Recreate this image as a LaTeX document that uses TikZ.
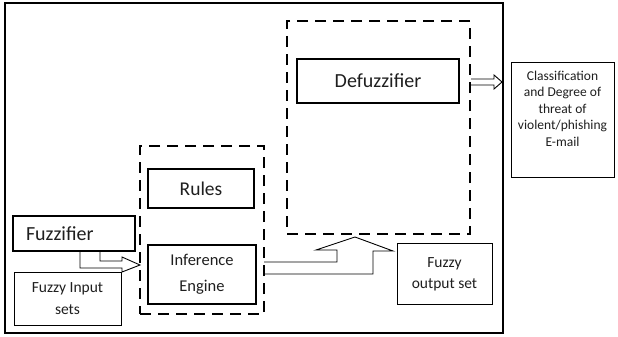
\documentclass[tikz,border=0pt]{standalone}
\usepackage{fontspec}
\setmainfont{Carlito}
\usetikzlibrary{calc}
\begin{document}
\begin{tikzpicture}[x=1pt,y=-1pt,
  every node/.style={inner sep=0pt, outer sep=0pt, text=black!88},
  outerbox/.style={draw, line width=2pt},
  dashbox/.style={draw, line width=2.5pt, dash pattern=on 11pt off 7pt},
  heavybox/.style={draw, line width=2.5pt},
  midbox/.style={draw, line width=2pt},
  thinbox/.style={draw, line width=0.9pt},
  fatarrow/.style={draw, line width=0.9pt, line join=miter}]
\useasboundingbox (0,0) rectangle (618,337);
\fill[white] (0,0) rectangle (618,337);
% frames
\node[outerbox, minimum width=498pt, minimum height=330pt] (outer) at (254,168) {};
\node[dashbox, minimum width=124pt, minimum height=168pt] (dashL) at (202,230) {};
\node[dashbox, minimum width=183pt, minimum height=213pt] (dashR) at (378.5,127.5) {};
% blocks
\node[midbox, minimum width=106pt, minimum height=39pt, font=\fontsize{19.5}{22}\selectfont] (rules) at (201,188.5) {Rules};
\node[midbox, minimum width=108pt, minimum height=59pt, align=center, font=\fontsize{16.5}{26}\selectfont] (infer) at (202,274.5) {Inference\\Engine};
\node[heavybox, minimum height=35pt, inner xsep=13pt, text width=96pt, align=left, font=\fontsize{20}{23}\selectfont] (fuzz) at (74,233.5) {Fuzzifier};
\node[heavybox, minimum width=162pt, minimum height=44pt, font=\fontsize{20}{23}\selectfont] (defuzz) at (378,81) {Defuzzifier};
\node[thinbox, minimum width=107pt, minimum height=53pt, align=center, font=\fontsize{15.5}{22}\selectfont] (fuzzin) at (67.5,298.5) {Fuzzy Input\\sets};
\node[thinbox, minimum width=95pt, minimum height=61pt, align=center, font=\fontsize{15.5}{21}\selectfont] (fuzzout) at (444.5,274) {Fuzzy\\output set};
\node[thinbox, minimum width=103pt, minimum height=115pt, align=center, font=\fontsize{13.5}{16.5}\selectfont] (result) at (562.5,120) {Classification\\and Degree of\\threat of\\violent/phishing\\E-mail\\[6pt]};
% hollow arrows
\coordinate (tipA) at (140,265);
\coordinate (tipB) at (355,237);
\coordinate (tipC) at (502,82);
\draw[fatarrow] ($(fuzz.south)+(26,0)$) -- ++(0,10) -- ++(22,0) -- ++(0,-4) -- (tipA)
  -- ++(-18,7) -- ++(0,-4) -- ++(-42,0) -- ($(fuzz.south)+(6,0)$);
\draw[fatarrow] ($(dashL.south east)+(0,-52)$) -- ++(73,0) -- ++(0,-12) -- ++(-21,0) -- (tipB)
  -- ++(38,14) -- ++(-20,0) -- ++(0,23) -- ++(-109,0);
\draw[fatarrow] ($(dashR.north east)+(1,58)$) -- ++(23,0) -- ++(0,-4) -- (tipC)
  -- ++(-8,7) -- ++(0,-4) -- ++(-23,0);
\end{tikzpicture}
\end{document}
